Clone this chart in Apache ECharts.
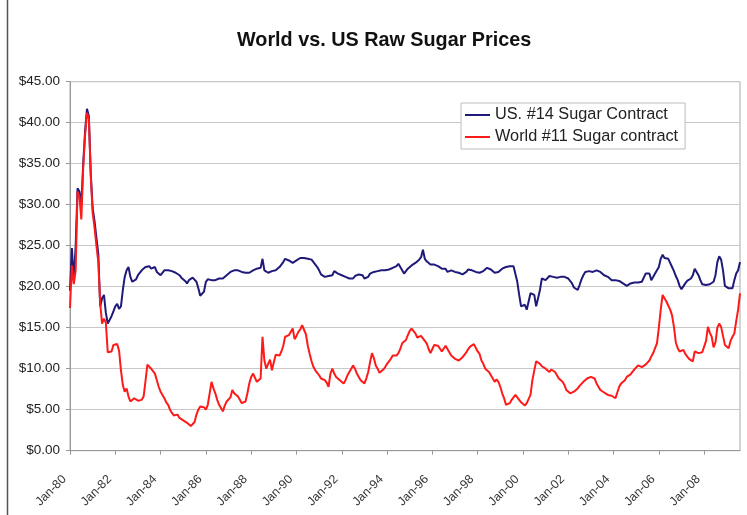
<!DOCTYPE html>
<html>
<head>
<meta charset="utf-8">
<title>World vs. US Raw Sugar Prices</title>
<script src="https://cdn.jsdelivr.net/npm/echarts@6/dist/echarts.min.js"></script>
<style>
  html, body { margin: 0; padding: 0; background: #fff; }
  #chart { width: 747px; height: 515px; }
</style>
</head>
<body>
<div id="chart"></div>
<script>
// Monthly raw sugar prices, US cents per pound, Jan 1980 - Aug 2009

// US #14 Sugar Contract
const us14 = [
  19.5, 24.7, 20.8, 25.0, 32.0, 31.6, 30.0, 35.0, 39.0, 41.7, 40.8, 33.8, // 1980
  29.6, 28.0, 26.0, 24.0, 17.6, 18.6, 19.0, 16.8, 15.5, 15.7, 16.4, 17.0, // 1981
  17.6, 17.9, 17.3, 17.6, 19.6, 21.2, 22.0, 22.4, 21.2, 20.6, 20.6, 20.9, // 1982
  21.4, 21.6, 22.0, 22.2, 22.4, 22.6, 22.5, 22.2, 22.3, 22.4, 21.8, 21.6, // 1983
  21.4, 21.6, 22.0, 22.1, 22.0, 22.0, 21.9, 21.8, 21.7, 21.6, 21.4, 21.1, // 1984
  21.0, 20.7, 20.4, 20.8, 21.0, 21.1, 21.2, 20.6, 19.8, 18.9, 18.7, 19.4, // 1985
  20.6, 20.9, 20.9, 20.8, 20.9, 20.8, 20.9, 21.0, 21.1, 21.0, 21.2, 21.4, // 1986
  21.6, 21.8, 21.9, 22.0, 22.1, 22.0, 22.0, 21.8, 21.7, 21.7, 21.6, 21.7, // 1987
  21.8, 22.0, 22.1, 22.2, 22.2, 22.3, 23.4, 22.0, 21.8, 21.7, 21.7, 21.9, // 1988
  22.0, 22.0, 22.2, 22.4, 22.6, 23.0, 23.4, 23.3, 23.2, 23.0, 22.9, 23.1, // 1989
  23.2, 23.3, 23.5, 23.7, 23.5, 23.3, 23.4, 23.3, 23.3, 23.0, 22.7, 22.4, // 1990
  22.0, 21.5, 21.3, 21.2, 21.2, 21.3, 21.2, 21.4, 21.9, 21.8, 21.6, 21.5, // 1991
  21.4, 21.3, 21.2, 21.2, 21.0, 20.9, 21.0, 21.3, 21.4, 21.5, 21.6, 21.4, // 1992
  21.0, 20.8, 21.2, 21.6, 21.7, 21.8, 21.9, 21.9, 22.0, 22.0, 22.0, 22.0, // 1993
  22.0, 22.1, 22.2, 22.3, 22.4, 22.5, 22.8, 22.6, 22.0, 21.6, 21.9, 22.2, // 1994
  22.4, 22.6, 22.8, 22.9, 23.1, 23.3, 23.6, 24.5, 23.4, 23.1, 22.9, 22.7, // 1995
  22.7, 22.7, 22.6, 22.5, 22.3, 22.2, 22.2, 22.2, 21.8, 22.0, 22.0, 21.9, // 1996
  21.8, 21.8, 21.7, 21.6, 21.5, 21.5, 21.8, 22.1, 22.2, 22.0, 22.0, 21.8, // 1997
  21.7, 21.7, 21.7, 21.9, 22.1, 22.3, 22.4, 22.1, 21.9, 21.7, 21.6, 21.8, // 1998
  22.0, 22.2, 22.3, 22.4, 22.5, 22.5, 22.5, 22.5, 22.4, 20.6, 19.0, 17.6, // 1999
  17.8, 17.8, 17.2, 18.2, 19.2, 19.2, 19.0, 17.6, 18.6, 19.6, 21.0, 20.9, // 2000
  20.8, 21.0, 21.3, 21.4, 21.2, 21.0, 21.1, 21.2, 21.2, 21.1, 21.2, 21.2, // 2001
  21.0, 20.8, 20.4, 19.9, 19.7, 19.6, 20.2, 20.9, 21.4, 21.8, 22.0, 21.9, // 2002
  21.8, 21.8, 21.9, 22.0, 21.9, 21.8, 21.6, 21.4, 21.2, 21.2, 21.0, 20.8, // 2003
  20.6, 20.8, 20.9, 20.7, 20.5, 20.4, 20.2, 20.1, 20.3, 20.4, 20.4, 20.5, // 2004
  20.5, 20.5, 20.6, 20.6, 20.7, 21.6, 21.8, 21.6, 20.8, 21.0, 21.6, 21.8, // 2005
  22.4, 23.4, 23.9, 23.5, 23.4, 23.4, 22.9, 22.4, 21.9, 21.3, 20.8, 20.1, // 2006
  19.7, 19.8, 20.4, 20.7, 20.8, 21.0, 21.4, 22.2, 22.3, 21.4, 20.8, 20.3, // 2007
  20.2, 20.2, 20.2, 20.3, 20.5, 20.6, 21.4, 23.0, 23.7, 23.3, 22.0, 20.1, // 2008
  19.9, 19.8, 19.9, 19.8, 20.8, 21.6, 22.0, 23.0                          // 2009
];

// World #11 Sugar contract
const world11 = [
  17.4, 22.6, 20.3, 22.0, 31.6, 31.0, 28.2, 34.5, 38.5, 41.2, 40.5, 33.5, // 1980
  29.0, 27.2, 25.0, 23.0, 18.0, 15.5, 16.1, 15.6, 12.0, 11.8, 12.1, 12.9, // 1981
  13.1, 13.0, 12.2, 9.8, 8.0, 7.2, 7.6, 6.6, 6.0, 6.2, 6.4, 6.2,          // 1982
  6.1, 6.3, 6.2, 6.6, 8.5, 10.5, 10.6, 10.0, 9.8, 9.4, 8.6, 7.8,          // 1983
  7.2, 6.8, 6.4, 5.9, 5.6, 5.0, 4.6, 4.3, 4.5, 4.4, 4.0, 3.8,             // 1984
  3.7, 3.9, 3.4, 3.6, 3.0, 2.8, 3.5, 4.4, 5.0, 5.4, 5.6, 5.3,             // 1985
  5.0, 5.6, 7.0, 8.4, 7.6, 7.0, 6.2, 5.6, 5.2, 4.8, 5.5, 6.0,             // 1986
  6.2, 6.5, 7.4, 7.0, 6.8, 6.6, 6.2, 5.8, 5.6, 6.0, 7.0, 8.2,             // 1987
  9.0, 9.4, 8.9, 8.4, 8.6, 8.8, 13.9, 11.0, 10.0, 10.6, 11.1, 9.8,        // 1988
  10.8, 11.7, 11.9, 11.6, 12.1, 12.8, 13.9, 13.7, 14.1, 14.5, 14.9, 13.6, // 1989
  14.0, 14.5, 14.8, 15.3, 15.1, 14.2, 12.8, 11.8, 10.9, 10.2, 9.8, 9.5,   // 1990
  9.2, 8.8, 9.0, 8.6, 8.3, 7.8, 9.4, 10.0, 9.4, 9.0, 9.2, 8.6,            // 1991
  8.5, 8.2, 8.6, 9.2, 9.6, 10.0, 10.4, 10.0, 9.4, 9.0, 8.6, 8.4,          // 1992
  8.2, 8.8, 9.6, 10.8, 11.9, 11.3, 10.4, 10.0, 9.5, 9.6, 9.9, 10.2,       // 1993
  10.6, 10.9, 11.2, 11.6, 11.8, 11.6, 11.9, 12.4, 13.1, 13.2, 13.5, 14.1, // 1994
  14.6, 14.9, 14.7, 14.3, 13.8, 13.7, 14.0, 13.9, 13.4, 13.1, 12.4, 11.9, // 1995
  12.4, 12.9, 13.1, 12.8, 12.6, 12.1, 12.3, 12.8, 12.6, 12.0, 11.6, 11.4, // 1996
  11.2, 11.1, 11.0, 11.2, 11.4, 11.6, 12.0, 12.4, 12.7, 12.9, 13.0, 13.1, // 1997
  12.1, 11.8, 11.0, 10.6, 10.0, 9.8, 9.6, 9.4, 8.8, 8.4, 8.7, 8.4,        // 1998
  7.8, 7.0, 6.4, 5.6, 5.4, 5.8, 6.2, 6.4, 6.8, 6.5, 6.2, 5.9,             // 1999
  5.7, 5.5, 5.8, 5.6, 6.8, 8.6, 9.8, 10.9, 10.7, 10.6, 10.3, 10.2,        // 2000
  10.0, 9.8, 9.6, 9.9, 9.8, 9.6, 9.2, 8.8, 8.6, 8.4, 8.0, 7.4,            // 2001
  7.2, 7.0, 7.1, 7.2, 7.4, 7.6, 7.9, 8.0, 8.4, 8.6, 8.8, 9.0,             // 2002
  9.0, 8.9, 8.8, 8.2, 7.8, 7.4, 7.2, 7.1, 7.0, 6.8, 6.7, 6.7,             // 2003
  6.6, 6.4, 6.6, 7.8, 8.2, 8.4, 8.6, 9.0, 9.2, 9.3, 9.6, 9.9,             // 2004
  10.1, 10.4, 10.3, 10.2, 10.3, 10.5, 10.6, 11.0, 11.5, 11.9, 12.5, 13.1, // 2005
  15.0, 17.2, 19.0, 18.6, 18.2, 18.0, 17.2, 16.5, 15.1, 13.2, 12.5, 12.1, // 2006
  12.2, 12.3, 11.8, 11.5, 11.2, 11.0, 10.9, 12.1, 12.0, 11.9, 12.0, 12.0, // 2007
  12.1, 13.4, 15.1, 14.4, 13.9, 12.6, 13.2, 15.0, 15.5, 15.1, 14.0, 12.9, // 2008
  12.7, 12.5, 13.4, 13.9, 14.3, 15.8, 17.2, 19.2                          // 2009
];

// Month labels, e.g. "Jan-80"
const monthNames = ['Jan', 'Feb', 'Mar', 'Apr', 'May', 'Jun',
                    'Jul', 'Aug', 'Sep', 'Oct', 'Nov', 'Dec'];
const startYear = 1980;
const months = us14.map(function (_, i) {
  const yy = (startYear + Math.floor(i / 12)) % 100;
  return monthNames[i % 12] + '-' + (yy < 10 ? '0' : '') + yy;
});

// Price axis
const priceMin = 0;
const priceMax = 45;
const priceStep = 5;

const chart = echarts.init(document.getElementById('chart'), null, { renderer: 'canvas' });

chart.setOption({
  animation: false,
  backgroundColor: '#ffffff',
  textStyle: { fontFamily: 'Liberation Sans, Arial, sans-serif' },
  title: {
    text: 'World vs. US Raw Sugar Prices',
    left: 232,
    top: 26,
    textStyle: { fontSize: 19.8, fontWeight: 'bold', color: '#111' }
  },
  legend: {
    orient: 'vertical',
    left: 461,
    top: 103,
    padding: [1, 7, 1, 4],
    itemWidth: 25,
    itemHeight: 2,
    itemGap: 0,
    icon: 'rect',
    backgroundColor: '#fff',
    borderColor: '#bdbdbd',
    borderWidth: 1,
    textStyle: { fontSize: 16.3, lineHeight: 22, color: '#222' },
    data: ['US. #14 Sugar Contract', 'World #11 Sugar contract']
  },
  grid: {
    left: 70,
    right: 7,
    top: 81.7,
    bottom: 64.3,
    show: true,
    borderColor: '#a8a8a8',
    borderWidth: 1,
    backgroundColor: 'transparent'
  },
  xAxis: {
    type: 'category',
    data: months,
    boundaryGap: false,
    axisLine: { show: true, lineStyle: { color: '#999', width: 1 } },
    axisTick: { show: true, interval: 23, length: 4, lineStyle: { color: '#999' } },
    axisLabel: {
      interval: 23,
      rotate: 45,
      fontSize: 12.3,
      color: '#333',
      margin: 21,
      padding: [0, 8, 0, 0]
    },
    splitLine: { show: false }
  },
  yAxis: {
    type: 'value',
    min: priceMin,
    max: priceMax,
    interval: priceStep,
    axisLine: { show: true, lineStyle: { color: '#999', width: 1 } },
    axisTick: { show: true, length: 4, lineStyle: { color: '#999' } },
    axisLabel: {
      fontSize: 13.5,
      color: '#222',
      margin: 10,
      formatter: function (v) { return '$' + v.toFixed(2); }
    },
    splitLine: { show: true, lineStyle: { color: '#c8c8c8', width: 1 } }
  },
  graphic: [{
    type: 'line',
    shape: { x1: 7.5, y1: 0, x2: 7.5, y2: 515 },
    style: { stroke: '#555', lineWidth: 1.5 },
    silent: true
  }],
  series: [
    {
      name: 'US. #14 Sugar Contract',
      type: 'line',
      data: us14,
      showSymbol: false,
      symbol: 'none',
      lineStyle: { color: '#1f1a7a', width: 2 },
      itemStyle: { color: '#1f1a7a' },
      z: 2
    },
    {
      name: 'World #11 Sugar contract',
      type: 'line',
      data: world11,
      showSymbol: false,
      symbol: 'none',
      lineStyle: { color: '#ff1a1a', width: 2 },
      itemStyle: { color: '#ff1a1a' },
      z: 3
    }
  ]
});
</script>
</body>
</html>
